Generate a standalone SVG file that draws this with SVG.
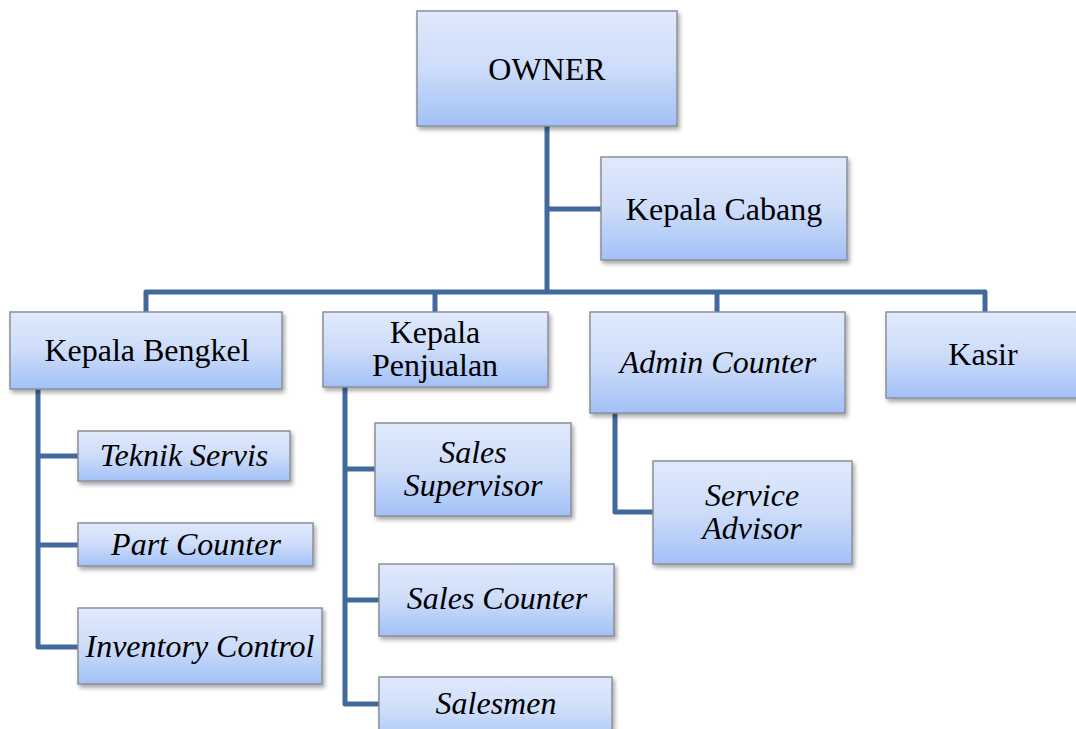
<svg xmlns="http://www.w3.org/2000/svg" width="1076" height="729" viewBox="0 0 1076 729">
<defs>
<linearGradient id="g" x1="0" y1="0" x2="0" y2="1">
<stop offset="0" stop-color="#e0eafc"/>
<stop offset="0.5" stop-color="#cddcf9"/>
<stop offset="1" stop-color="#a2c1f7"/>
</linearGradient>
<filter id="sh" x="-10%" y="-10%" width="125%" height="135%">
<feDropShadow dx="2" dy="3" stdDeviation="2" flood-color="#000" flood-opacity="0.35"/>
</filter>
</defs>
<style>
.box{fill:url(#g);stroke:#8a8f98;stroke-width:1.5;filter:url(#sh)}
.c{fill:none;stroke:#41699b;stroke-width:5;stroke-linejoin:round;stroke-linecap:butt}
text{font-family:"Liberation Serif","Times New Roman",serif;font-size:32px;fill:#000;text-anchor:middle}
.i{font-style:italic}
</style>
<rect width="1076" height="729" fill="#fff"/>
<g id="connectors">
<path class="c" d="M547 126 V292"/>
<path class="c" d="M547 209 H601"/>
<path class="c" d="M146 312 V292 H985 V312"/>
<path class="c" d="M435 292 V312"/>
<path class="c" d="M717 292 V312"/>
<path class="c" d="M38 389 V647 H78"/>
<path class="c" d="M38 456 H78"/>
<path class="c" d="M38 545 H78"/>
<path class="c" d="M345 387 V704 H379"/>
<path class="c" d="M345 469 H375"/>
<path class="c" d="M345 600 H379"/>
<path class="c" d="M615 413 V512 H653"/>
</g>
<g id="owner"><rect class="box" x="417" y="11" width="260" height="115"/><text x="547" y="80">OWNER</text></g>
<g id="kepala-cabang"><rect class="box" x="601" y="157" width="246" height="103"/><text x="724" y="220">Kepala Cabang</text></g>
<g id="kepala-bengkel"><rect class="box" x="10" y="312" width="272" height="77"/><text x="147" y="361">Kepala Bengkel</text></g>
<g id="kepala-penjualan"><rect class="box" x="323" y="312" width="225" height="75"/><text x="435" y="343">Kepala</text><text x="435" y="376">Penjualan</text></g>
<g id="admin-counter"><rect class="box" x="590" y="312" width="255" height="101"/><text class="i" x="718" y="373">Admin Counter</text></g>
<g id="kasir"><rect class="box" x="886" y="312" width="195" height="86"/><text x="983" y="365">Kasir</text></g>
<g id="teknik-servis"><rect class="box" x="78" y="431" width="212" height="50"/><text class="i" x="184" y="466">Teknik Servis</text></g>
<g id="part-counter"><rect class="box" x="78" y="523" width="235" height="43"/><text class="i" x="196" y="555">Part Counter</text></g>
<g id="inventory-control"><rect class="box" x="78" y="608" width="244" height="76"/><text class="i" x="200" y="657">Inventory Control</text></g>
<g id="sales-supervisor"><rect class="box" x="375" y="423" width="196" height="93"/><text class="i" x="473" y="463">Sales</text><text class="i" x="473" y="496">Supervisor</text></g>
<g id="sales-counter"><rect class="box" x="379" y="564" width="235" height="72"/><text class="i" x="497" y="609">Sales Counter</text></g>
<g id="salesmen"><rect class="box" x="379" y="677" width="233" height="70"/><text class="i" x="496" y="714">Salesmen</text></g>
<g id="service-advisor"><rect class="box" x="653" y="461" width="199" height="103"/><text class="i" x="752" y="506">Service</text><text class="i" x="752" y="539">Advisor</text></g>
</svg>
